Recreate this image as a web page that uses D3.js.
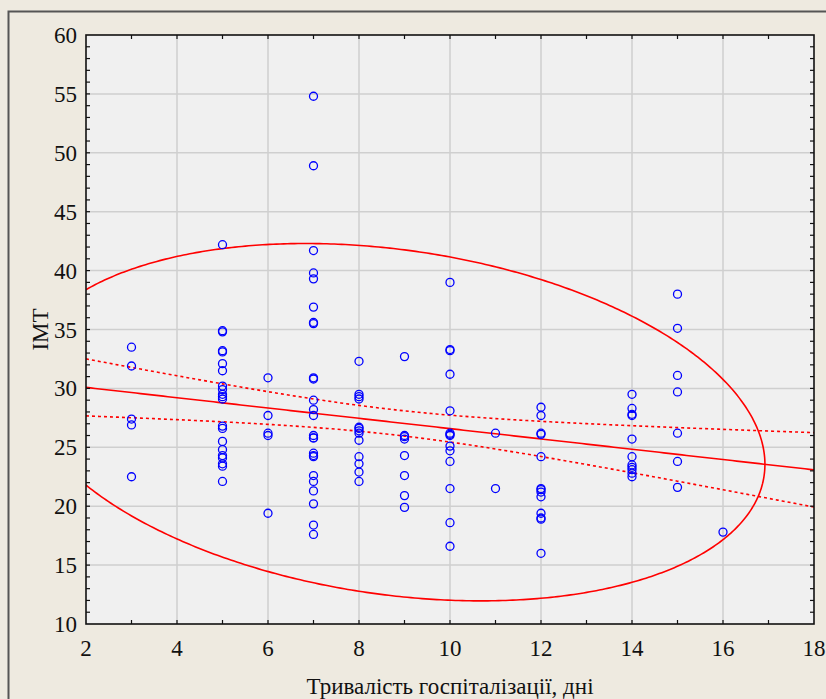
<!DOCTYPE html>
<html><head><meta charset="utf-8">
<script src="https://cdn.jsdelivr.net/npm/d3@7/dist/d3.min.js"></script>
<style>
body{margin:0;padding:0;background:#eeeae0;}
svg{display:block;}
</style></head>
<body>
<svg id="chart" width="826" height="699"></svg>
<script>
// Data: hospitalisation days (x) and IMT (y) per group
const days = [3,5,6,7,8,9,10,11,12,14,15,16];
const imt3  = [33.5,31.9,27.4,26.9,22.5];
const imt5  = [42.2,34.9,34.8,33.2,33.1,32.1,31.5,30.2,29.9,29.5,29.3,29.1,26.8,26.6,25.5,24.8,24.3,24.1,23.6,23.4,22.1];
const imt6  = [30.9,27.7,26.2,26.0,19.4];
const imt7  = [54.8,48.9,41.7,39.8,39.3,36.9,35.6,35.5,30.9,30.8,29.0,28.2,27.7,26.0,25.8,25.8,24.5,24.3,24.2,22.6,22.1,21.3,20.2,18.4,17.6];
const imt8  = [32.3,29.5,29.3,29.1,26.7,26.6,26.4,26.2,25.6,24.2,23.6,22.9,22.1];
const imt9  = [32.7,26.0,25.9,25.7,24.3,22.6,20.9,19.9];
const imt10 = [39.0,33.3,33.2,31.2,28.1,26.2,26.1,26.0,25.1,24.7,23.8,21.5,18.6,16.6];
const imt11 = [26.2,21.5];
const imt12 = [28.4,27.7,26.2,26.1,24.2,21.5,21.4,21.2,20.8,19.4,19.0,18.9,16.0];
const imt14 = [29.5,28.3,27.8,27.7,25.7,24.2,23.5,23.3,23.1,22.8,22.5];
const imt15 = [38.0,35.1,31.1,29.7,26.2,23.8,21.6];
const imt16 = [17.8];
const groups = [imt3,imt5,imt6,imt7,imt8,imt9,imt10,imt11,imt12,imt14,imt15,imt16];

const xTicks = [2,4,6,8,10,12,14,16,18];
const yTicks = [10,15,20,25,30,35,40,45,50,55,60];
const xTitle = "Тривалість госпіталізації, дні";
const yTitle = "IMT";

const points = [];
days.forEach((d,i)=>groups[i].forEach(v=>points.push([d,v])));

const W=826,H=699;
const L=86,R=814,T=35,B=624;
const FONT="Liberation Serif";
const svg=d3.select("#chart");
const x=d3.scaleLinear().domain([2,18]).range([L,R]);
const y=d3.scaleLinear().domain([10,60]).range([B,T]);

// figure border
svg.append("rect").attr("x",8.5).attr("y",11.5).attr("width",W+10).attr("height",H+10)
  .attr("fill","#eeeae0").attr("stroke","#555").attr("stroke-width",2);
// plot bg
svg.append("rect").attr("x",L).attr("y",T).attr("width",R-L).attr("height",B-T).attr("fill","#f0f0f0");

svg.append("clipPath").attr("id","clip").append("rect")
  .attr("x",L).attr("y",T).attr("width",R-L).attr("height",B-T);

// grid
const g=svg.append("g");
xTicks.slice(1,-1).forEach(t=>g.append("line").attr("x1",x(t)).attr("x2",x(t)).attr("y1",T).attr("y2",B)
  .attr("stroke","#cfcfcf").attr("stroke-width",1.5));
yTicks.slice(1,-1).forEach(t=>g.append("line").attr("y1",y(t)).attr("y2",y(t)).attr("x1",L).attr("x2",R)
  .attr("stroke","#cfcfcf").attr("stroke-width",1.5));

// statistics
const n=points.length;
const mx=d3.mean(points,p=>p[0]), my=d3.mean(points,p=>p[1]);
let sxx=0,syy=0,sxy=0;
points.forEach(p=>{sxx+=(p[0]-mx)**2;syy+=(p[1]-my)**2;sxy+=(p[0]-mx)*(p[1]-my);});
const b1=sxy/sxx, b0=my-b1*mx;
let sse=0; points.forEach(p=>{sse+=(p[1]-b0-b1*p[0])**2;});
const s=Math.sqrt(sse/(n-2));
const tcrit=1.976;
const xs=d3.range(2,18.001,0.1);
const plot=svg.append("g").attr("clip-path","url(#clip)");
const line=d3.line().x(d=>x(d[0])).y(d=>y(d[1]));
plot.append("path").attr("d",line(xs.map(v=>[v,b0+b1*v]))).attr("fill","none").attr("stroke","#ff0000").attr("stroke-width",1.6);
[1,-1].forEach(sg=>{
  plot.append("path").attr("d",line(xs.map(v=>[v,b0+b1*v+sg*tcrit*s*Math.sqrt(1/n+(v-mx)**2/sxx)])))
   .attr("fill","none").attr("stroke","#ff0000").attr("stroke-width",1.6).attr("stroke-dasharray","3,3");
});
// 95% ellipse
const cxx=sxx/(n-1), cyy=syy/(n-1), cxy=sxy/(n-1);
const l11=Math.sqrt(cxx), l21=cxy/l11, l22=Math.sqrt(cyy-l21*l21);
const k=Math.sqrt(5.991);
const ell=d3.range(0,2*Math.PI+0.001,0.01).map(t=>{const a=Math.cos(t),b=Math.sin(t);
  return [mx+k*l11*a, my+k*(l21*a+l22*b)];});
plot.append("path").attr("d",line(ell)).attr("fill","none").attr("stroke","#ff0000").attr("stroke-width",1.6);

// points
plot.selectAll("circle.pt").data(points).enter().append("circle").attr("class","pt")
  .attr("cx",d=>x(d[0])).attr("cy",d=>y(d[1])).attr("r",4)
  .attr("fill","none").attr("stroke","#0000ff").attr("stroke-width",1.3);

// frame
svg.append("rect").attr("x",L).attr("y",T).attr("width",R-L).attr("height",B-T)
  .attr("fill","none").attr("stroke","#111").attr("stroke-width",1.6);
// minor ticks inside
const tk=svg.append("g").attr("stroke","#111").attr("stroke-width",1.2);
d3.range(3,18).forEach(v=>{
  tk.append("line").attr("x1",x(v)).attr("x2",x(v)).attr("y1",T).attr("y2",T+4);
  tk.append("line").attr("x1",x(v)).attr("x2",x(v)).attr("y1",B).attr("y2",B-4);
});
d3.range(11,60).forEach(v=>{
  tk.append("line").attr("y1",y(v)).attr("y2",y(v)).attr("x1",L).attr("x2",L+4);
  tk.append("line").attr("y1",y(v)).attr("y2",y(v)).attr("x1",R).attr("x2",R-4);
});

// labels
svg.selectAll("text.yt").data(yTicks).enter().append("text").attr("class","yt")
  .attr("x",L-9).attr("y",d=>y(d)+8).attr("text-anchor","end").style("font-family",FONT).attr("font-size",23).attr("fill","#111").text(d=>d);
svg.selectAll("text.xt").data(xTicks).enter().append("text").attr("class","xt")
  .attr("x",d=>x(d)).attr("y",B+32).attr("text-anchor","middle").style("font-family",FONT).attr("font-size",23).attr("fill","#111").text(d=>d);
svg.append("text").attr("x",450).attr("y",694).attr("text-anchor","middle").style("font-family",FONT).attr("font-size",23).attr("fill","#111").text(xTitle);
svg.append("text").attr("transform",`translate(48,${(T+B)/2}) rotate(-90)`).attr("text-anchor","middle").style("font-family",FONT).attr("font-size",23).attr("fill","#111").text(yTitle);
</script>
</body></html>
